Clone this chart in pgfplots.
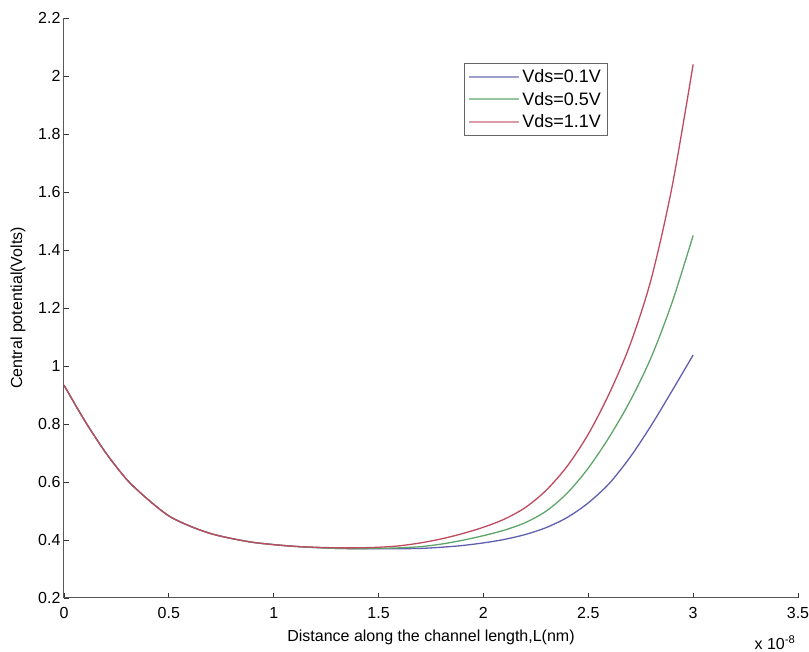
\documentclass[border=0pt]{standalone}
\usepackage{fontspec}
\setmainfont{Liberation Sans}
\usepackage{pgfplots}
\pgfplotsset{compat=1.18}

\definecolor{cblue}{RGB}{95,95,175}
\definecolor{cgreen}{RGB}{95,165,105}
\definecolor{cred}{RGB}{190,75,95}

% Central potential along the channel for three drain biases
\pgfplotstableread{
x     v
0.0   0.934
0.1   0.810
0.2   0.700
0.3   0.608
0.4   0.540
0.5   0.483
0.6   0.448
0.7   0.422
0.8   0.405
0.9   0.392
1.0   0.384
1.1   0.378
1.2   0.374
1.3   0.371
1.4   0.370
1.5   0.370
1.6   0.370
1.7   0.371
1.8   0.375
1.9   0.381
2.0   0.390
2.1   0.402
2.2   0.419
2.3   0.443
2.4   0.478
2.5   0.528
2.6   0.595
2.7   0.686
2.8   0.795
2.9   0.915
3.0   1.038
}\vdsA

\pgfplotstableread{
x     v
0.0   0.934
0.1   0.810
0.2   0.700
0.3   0.608
0.4   0.540
0.5   0.483
0.6   0.448
0.7   0.422
0.8   0.405
0.9   0.392
1.0   0.384
1.1   0.378
1.2   0.374
1.3   0.371
1.4   0.370
1.5   0.371
1.6   0.373
1.7   0.377
1.8   0.386
1.9   0.399
2.0   0.415
2.1   0.434
2.2   0.460
2.3   0.500
2.4   0.562
2.5   0.648
2.6   0.755
2.7   0.880
2.8   1.030
2.9   1.220
3.0   1.450
}\vdsB

\pgfplotstableread{
x     v
0.0   0.934
0.1   0.810
0.2   0.700
0.3   0.608
0.4   0.540
0.5   0.483
0.6   0.448
0.7   0.422
0.8   0.405
0.9   0.392
1.0   0.384
1.1   0.378
1.2   0.375
1.3   0.373
1.4   0.373
1.5   0.375
1.6   0.380
1.7   0.390
1.8   0.404
1.9   0.422
2.0   0.444
2.1   0.472
2.2   0.512
2.3   0.572
2.4   0.655
2.5   0.765
2.6   0.905
2.7   1.075
2.8   1.300
2.9   1.620
3.0   2.040
}\vdsC

\begin{document}
\begin{tikzpicture}[font=\fontsize{16}{19}\selectfont]
\begin{axis}[
  at={(0,0)}, anchor=south west,
  scale only axis,
  width=734pt, height=580pt,
  xmin=0, xmax=3.5, ymin=0.2, ymax=2.2,
  xtick={0,0.5,...,3.5},
  ytick={0.2,0.4,...,2.2},
  axis x line*=bottom, axis y line*=left,
  axis line style={draw=black!65, line width=1pt},
  tick style={draw=black!80, line width=0.8pt},
  tick align=inside,
  major tick length=5pt,
  /pgf/number format/assume math mode=true,
  tick label style={font=\fontsize{16}{19}\selectfont},
  xticklabel style={yshift=-6pt},
  xlabel={Distance along the channel length,L(nm)},
  ylabel={Central potential(Volts)},
  xlabel style={at={(axis description cs:0.5,0)}, anchor=center, yshift=-39pt},
  ylabel style={yshift=6pt},
  legend style={
    at={(rel axis cs:0.545,0.922)}, anchor=north west,
    draw=black!60, line width=0.8pt,
    font=\fontsize{18}{21}\selectfont,
    cells={anchor=west},
    row sep=4pt, inner sep=4pt
  },
]
\addplot[cblue, line width=1.3pt, smooth,
  legend image code/.code={\draw[cblue!60!white, line width=2pt] (0pt,0pt) -- (50pt,0pt);}]
  table[x=x, y=v] {\vdsA};
\addlegendentry{Vds=0.1V}
\addplot[cgreen, line width=1.3pt, smooth,
  legend image code/.code={\draw[cgreen!65!white, line width=2pt] (0pt,0pt) -- (50pt,0pt);}]
  table[x=x, y=v] {\vdsB};
\addlegendentry{Vds=0.5V}
\addplot[cred, line width=1.3pt, smooth,
  legend image code/.code={\draw[cred!55!white, line width=2pt] (0pt,0pt) -- (50pt,0pt);}]
  table[x=x, y=v] {\vdsC};
\addlegendentry{Vds=1.1V}
\end{axis}
\node[anchor=center, inner sep=0pt] at (711pt,-45pt) {x 10\textsuperscript{-8}};
\pgfresetboundingbox
\path[use as bounding box] (-64pt,-54pt) rectangle (745pt,598pt);
\end{tikzpicture}
\end{document}
